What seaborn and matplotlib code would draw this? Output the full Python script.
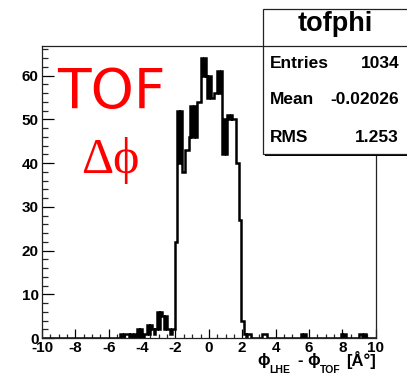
import numpy as np
import pandas as pd
import matplotlib
matplotlib.use("Agg")
import matplotlib.pyplot as plt
from matplotlib.patches import Rectangle
from matplotlib.lines import Line2D
import seaborn as sns

# tofphi: phi_LHE - phi_TOF in 0.1-wide bins over [-10, 10]
BIN_WIDTH = 0.1
X_MIN, X_MAX = -10.0, 10.0

left_tail_start = -5.3
left_tail_counts = [1, 0, 1, 1, 1, 0, 1, 0, 1, 0,
                    2, 0, 2, 0, 1, 1, 3, 1, 3, 2,
                    1, 2, 6, 2, 6, 5, 2, 5, 2, 2,
                    1, 2, 2]

core_start = -2.0
core_counts = [22, 52, 40, 52, 38, 38, 43, 43, 46, 53,
               46, 53, 46, 54, 54, 64, 60, 64, 60, 55,
               60, 55, 55, 56, 56, 61, 56, 61, 42, 50,
               42, 51, 50, 51, 50, 50, 40, 40, 27, 4,
               4, 1, 0, 1, 1]

right_tail_at = [3.2, 3.3, 3.4, 5.5, 5.7, 7.9, 8.1, 9.0, 9.1, 9.3]
right_tail_counts = [1, 1, 1, 1, 1, 1, 1, 1, 1, 1]

x_ticks = [-10, -8, -6, -4, -2, 0, 2, 4, 6, 8, 10]
y_ticks = [0, 10, 20, 30, 40, 50, 60]

stats_title = "tofphi"
stats_rows = [("Entries", "1034"), ("Mean", "-0.02026"), ("RMS", "1.253")]

# assemble the full bin array
n_bins = int(round((X_MAX - X_MIN) / BIN_WIDTH))
edges = np.linspace(X_MIN, X_MAX, n_bins + 1)
centers = edges[:-1] + BIN_WIDTH / 2
counts = np.zeros(n_bins)


def bin_index(v):
    return int(round((v - X_MIN) / BIN_WIDTH))


for i, c in enumerate(left_tail_counts):
    counts[bin_index(left_tail_start) + i] = c
for i, c in enumerate(core_counts):
    counts[bin_index(core_start) + i] = c
for v, c in zip(right_tail_at, right_tail_counts):
    counts[bin_index(v)] = c

hist_df = pd.DataFrame({"dphi": centers, "n": counts})

sns.set_style("white")
plt.rcParams["font.family"] = ["Liberation Sans", "DejaVu Sans"]

W, H = 407, 374
fig = plt.figure(figsize=(W / 100, H / 100), dpi=100)
fig.patch.set_facecolor("white")


def fx(px):
    return px / W


def fy(py):
    return (H - py) / H


ax_l, ax_r, ax_t, ax_b = 42, 375.7, 46, 338
ax = fig.add_axes([fx(ax_l), fy(ax_b), fx(ax_r - ax_l), (ax_b - ax_t) / H])

sns.histplot(data=hist_df, x="dphi", weights="n", bins=list(edges),
             element="step", fill=False, color="black", linewidth=1.8, ax=ax)
for ln in ax.lines:
    ln.set_solid_joinstyle("miter")
    ln.set_solid_capstyle("butt")

ax.set_xlim(X_MIN, X_MAX)
ax.set_ylim(0, 66.8)
ax.set_xlabel("")
ax.set_ylabel("")

for s in ax.spines.values():
    s.set_visible(True)
    s.set_color("#222222")
    s.set_linewidth(0.9)

ax.set_xticks(x_ticks)
ax.set_xticks(np.arange(-10, 10.01, 0.5), minor=True)
ax.set_yticks(y_ticks)
ax.set_yticks(np.arange(0, 67, 2), minor=True)
ax.set_xticklabels([str(t) for t in x_ticks])
ax.set_yticklabels([str(t) for t in y_ticks])

ax.tick_params(axis="x", which="major", direction="in", length=6.5, width=0.9,
               bottom=True, top=False, pad=2.5, labelsize=11, colors="black")
ax.tick_params(axis="x", which="minor", direction="in", length=3.2, width=0.9,
               bottom=True, top=False)
ax.tick_params(axis="y", which="major", direction="in", length=8.6, width=0.9,
               left=True, right=False, pad=2.5, labelsize=11, colors="black")
ax.tick_params(axis="y", which="minor", direction="in", length=4.3, width=0.9,
               left=True, right=False)
for lab in ax.get_xticklabels() + ax.get_yticklabels():
    lab.set_fontweight("bold")

# red annotation
fig.text(fx(57), fy(108), "TOF", color="#ff0000", fontsize=39.5,
         family=["DejaVu Sans"], ha="left", va="baseline")
fig.text(fx(81), fy(173), "Δϕ", color="#ff0000", fontsize=36,
         family=["Liberation Serif", "DejaVu Serif"], ha="left", va="baseline")

# axis title, built from pieces
bold = dict(fontweight="bold", color="black")
fig.text(fx(263.5), fy(361), "ϕ", fontsize=12, ha="center", va="center", **bold)
fig.text(fx(269), fy(365), "LHE", fontsize=7.5, ha="left", va="top", **bold)
fig.text(fx(298), fy(361), "- ϕ", fontsize=12, ha="left", va="center", **bold)
fig.text(fx(320), fy(365), "TOF", fontsize=7.5, ha="left", va="top", **bold)
fig.text(fx(346), fy(360), "[Å°]", fontsize=12, ha="left", va="center", **bold)

# statistics box with shadow
bx_l, bx_t, bx_b = 263, 9, 154
shadow = Rectangle((fx(bx_l + 2), fy(bx_b + 2)), fx(W - bx_l + 10), (bx_b - bx_t) / H,
                   transform=fig.transFigure, facecolor="black", edgecolor="none",
                   zorder=5)
box = Rectangle((fx(bx_l), fy(bx_b)), fx(W - bx_l + 10), (bx_b - bx_t) / H,
                transform=fig.transFigure, facecolor="white", edgecolor="#222222",
                linewidth=0.9, zorder=6)
fig.add_artist(shadow)
fig.add_artist(box)
fig.add_artist(Line2D([fx(bx_l), 1.0], [fy(46), fy(46)], transform=fig.transFigure,
                      color="#222222", linewidth=0.9, zorder=7))

fig.text(fx(335), fy(24), stats_title, fontsize=19.5, ha="center", va="center",
         zorder=8, **bold)
row_y = [64, 99, 137]
for (name, val), yy in zip(stats_rows, row_y):
    fig.text(fx(270), fy(yy), name, fontsize=12.5, ha="left", va="center",
             zorder=8, **bold)
    fig.text(fx(399), fy(yy), val, fontsize=12.5, ha="right", va="center",
             zorder=8, **bold)

fig.savefig("out.png", dpi=100, facecolor="white")
